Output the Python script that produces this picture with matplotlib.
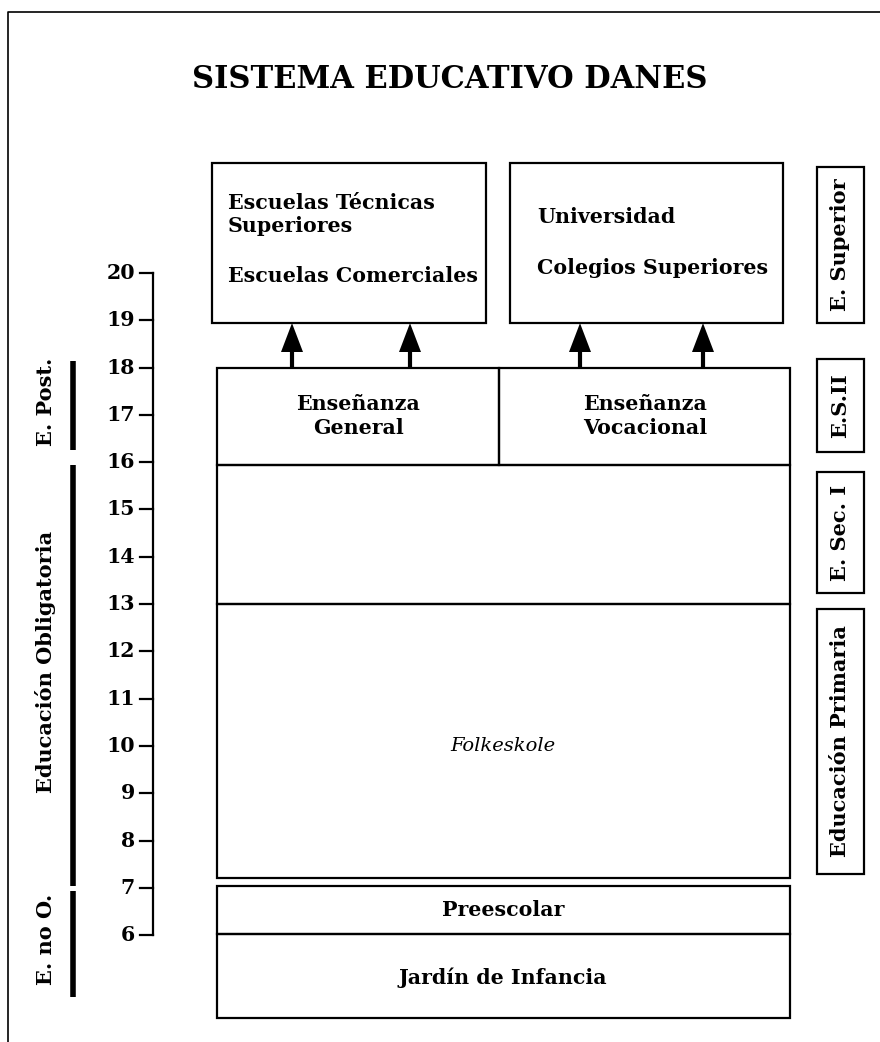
import matplotlib
matplotlib.use("Agg")
import matplotlib.pyplot as plt
from matplotlib.patches import Rectangle

# ages on the left scale
ages = [20, 19, 18, 17, 16, 15, 14, 13, 12, 11, 10, 9, 8, 7, 6]

# main blocks (age spans)
upper_left_lines = ["Escuelas Técnicas", "Superiores", "Escuelas Comerciales"]
upper_right_lines = ["Universidad", "Colegios Superiores"]
upper_span = (18.94, 22.33)
sec2_labels = ["Enseñanza\nGeneral", "Enseñanza\nVocacional"]
sec2_span = (15.95, 18.0)
sec1_span = (13.0, 15.95)
primary_label = "Folkeskole"
primary_span = (7.21, 13.0)
preschool_label = "Preescolar"
preschool_span = (6.02, 7.04)
kinder_label = "Jardín de Infancia"
kinder_span = (4.25, 6.02)

# left side bands: (label, bar from, bar to)
left_bands = [("E. Post.", 16.25, 18.15), ("Educación Obligatoria", 7.04, 15.95), ("E. no O.", 4.70, 6.94)]
# right side labels: (label, box from, box to)
right_bands = [("E. Superior", 18.94, 22.24), ("E.S.II", 16.22, 18.18),
               ("E. Sec. I", 13.23, 15.79), ("Educación Primaria", 7.29, 12.90)]

# pixel <-> age mapping
Y0, PX = 273.0, 47.3
def age(py):
    return 20 - (py - Y0) / PX

SERIF = "DejaVu Serif"
FS = 14.8
fig = plt.figure(figsize=(8.8, 10.42), dpi=100)
ax = fig.add_axes([0, 0, 1, 1])
ax.set_xlim(0, 880)
ax.set_ylim(age(1042), age(0))
ax.axis("off")

lw = 1.6
def box(x0, x1, a0, a1):
    ax.add_patch(Rectangle((x0, a0), x1 - x0, a1 - a0, fill=False, lw=lw, ec="black"))

def label(x, y, s, fs=FS, **kw):
    ax.text(x, y, s, va="center", fontsize=fs, fontweight="bold", family=SERIF, **kw)

# frame
ax.plot([8, 8, 880], [age(1042), age(12), age(12)], color="black", lw=1.2)

label(450, age(80), "SISTEMA EDUCATIVO DANES", fs=22, ha="center")

# age scale
ax.plot([153, 153], [ages[0], ages[-1]], color="black", lw=lw)
for a in ages:
    ax.plot([140, 153], [a, a], color="black", lw=lw)
    label(135, a, str(a), ha="right")

# upper boxes
box(212, 486, *upper_span)
box(510, 783, *upper_span)
for t, py in zip(upper_left_lines, [203, 226, 276]):
    label(228, age(py), t, ha="left")
for t, py in zip(upper_right_lines, [217, 268]):
    label(537, age(py), t, ha="left")

# arrows
for x in [292, 410, 580, 703]:
    ax.plot([x, x], [sec2_span[1], age(345)], color="black", lw=3, solid_capstyle="butt")
    ax.fill([x - 11, x + 11, x], [age(352), age(352), upper_span[0]], color="black", lw=0)

# secondary II
box(217, 499, *sec2_span)
box(499, 790, *sec2_span)
label(358, sum(sec2_span) / 2, sec2_labels[0], ha="center", linespacing=1.25)
label(645, sum(sec2_span) / 2, sec2_labels[1], ha="center", linespacing=1.25)

# secondary I and primary
box(217, 790, *sec1_span)
box(217, 790, *primary_span)
ax.text(503, 10, primary_label, ha="center", va="center", fontsize=14, style="italic", family=SERIF)

box(217, 790, *preschool_span)
box(217, 790, *kinder_span)
label(503, sum(preschool_span) / 2, preschool_label, ha="center")
label(503, age(978), kinder_label, ha="center")

# left bands
for (name, a0, a1), py in zip(left_bands, [402, 662, 939]):
    ax.plot([73, 73], [a0, a1], color="black", lw=4, solid_capstyle="butt")
    label(46, age(py), name, fs=15, rotation=90, ha="center")

# right bands
for name, a0, a1 in right_bands:
    box(817, 864, a0, a1)
    label(840.5, (a0 + a1) / 2, name, fs=15, rotation=90, ha="center")

fig.savefig("out.png", dpi=100)
